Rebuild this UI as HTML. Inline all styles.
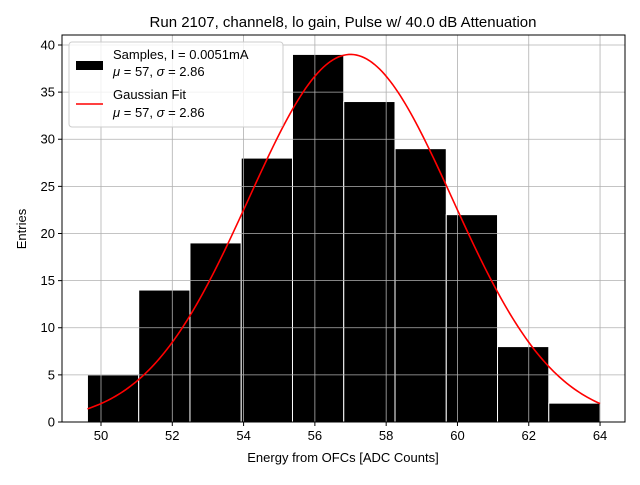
<!DOCTYPE html>
<html><head><meta charset="utf-8"><style>
body{margin:0;background:#fff;}
svg{font-family:"Liberation Sans","DejaVu Sans",sans-serif;}
</style></head><body>
<svg id="chart" width="640" height="480">
<text x="343" y="27" font-size="15" text-anchor="middle">Run 2107, channel8, lo gain, Pulse w/ 40.0 dB Attenuation</text>
<g id="bars"></g><g id="grid"></g><g id="curve"></g><g id="axes"></g>
<text x="343" y="462" font-size="13" text-anchor="middle">Energy from OFCs [ADC Counts]</text>
<text transform="translate(26,229) rotate(-90)" font-size="13" text-anchor="middle">Entries</text>
<g>
<rect x="69" y="42" width="214" height="85" fill="#fff" fill-opacity="0.8" stroke="#ccc" rx="3"/>
<rect x="76" y="61" width="27" height="9" fill="#000"/>
<text x="113" y="59" font-size="13">Samples, I = 0.0051mA</text>
<text x="113" y="76" font-size="13"><tspan font-style="italic">μ</tspan> = 57, <tspan font-style="italic">σ</tspan> = 2.86</text>
<line x1="76" y1="104" x2="103" y2="104" stroke="red" stroke-width="1.5"/>
<text x="113" y="99" font-size="13">Gaussian Fit</text>
<text x="113" y="117" font-size="13"><tspan font-style="italic">μ</tspan> = 57, <tspan font-style="italic">σ</tspan> = 2.86</text>
</g>
</svg>
<script>
const binStart = 49.62, binEnd = 64.0;
const counts = [5,14,19,28,39,34,29,22,8,2];
const fitMu = 57, fitSigma = 2.86, fitAmp = 39;
const xTicks = [50,52,54,56,58,60,62,64];
const yTicks = [0,5,10,15,20,25,30,35,40];
const L=62,R=625,T=35,B=422;
const xMin=48.906,xMax=64.70,yMin=0,yMax=41.06;
const X=v=>L+(v-xMin)/(xMax-xMin)*(R-L);
const Y=v=>B-(v-yMin)/(yMax-yMin)*(B-T);
const NS="http://www.w3.org/2000/svg";
function mk(tag,attrs,parent){const e=document.createElementNS(NS,tag);for(const k in attrs)e.setAttribute(k,attrs[k]);parent.appendChild(e);return e;}
const grid=document.getElementById('grid'),bars=document.getElementById('bars'),curve=document.getElementById('curve'),axes=document.getElementById('axes');
xTicks.forEach(t=>{
 const g=mk('line',{x1:X(t),x2:X(t),y1:T,y2:B,stroke:'#b0b0b0','stroke-width':0.8},grid);
 
 
 mk('line',{x1:X(t),x2:X(t),y1:B,y2:B+4,stroke:'#000'},axes);
 const tx=mk('text',{x:X(t),y:B+18,'font-size':13,'text-anchor':'middle'},axes);tx.textContent=t;
 
 
});
yTicks.forEach(t=>{
 const g=mk('line',{x1:L,x2:R,y1:Y(t),y2:Y(t),stroke:'#b0b0b0','stroke-width':0.8},grid);
 
 
 mk('line',{x1:L-4,x2:L,y1:Y(t),y2:Y(t),stroke:'#000'},axes);
 const tx=mk('text',{x:L-7,y:Y(t)+4.5,'font-size':13,'text-anchor':'end'},axes);tx.textContent=t;
 
 
});
const w=(binEnd-binStart)/counts.length;
counts.forEach((c,i)=>{
 const x0=binStart+i*w;
 const r=mk('rect',{x:X(x0),y:Y(c),width:X(x0+w)-X(x0),height:Y(0)-Y(c),fill:'#000',stroke:'#fff','stroke-width':1},bars);
 
 
});
let d='';
for(let i=0;i<=200;i++){const x=binStart+(binEnd-binStart)*i/200;const y=fitAmp*Math.exp(-((x-fitMu)**2)/(2*fitSigma*fitSigma));d+=(i?'L':'M')+X(x).toFixed(2)+','+Y(y).toFixed(2);}
const p=mk('path',{d:d,fill:'none',stroke:'red','stroke-width':1.6},curve);


const f=mk('rect',{x:L,y:T,width:R-L,height:B-T,fill:'none',stroke:'#000','stroke-width':1},axes);


</script>
</body></html>
